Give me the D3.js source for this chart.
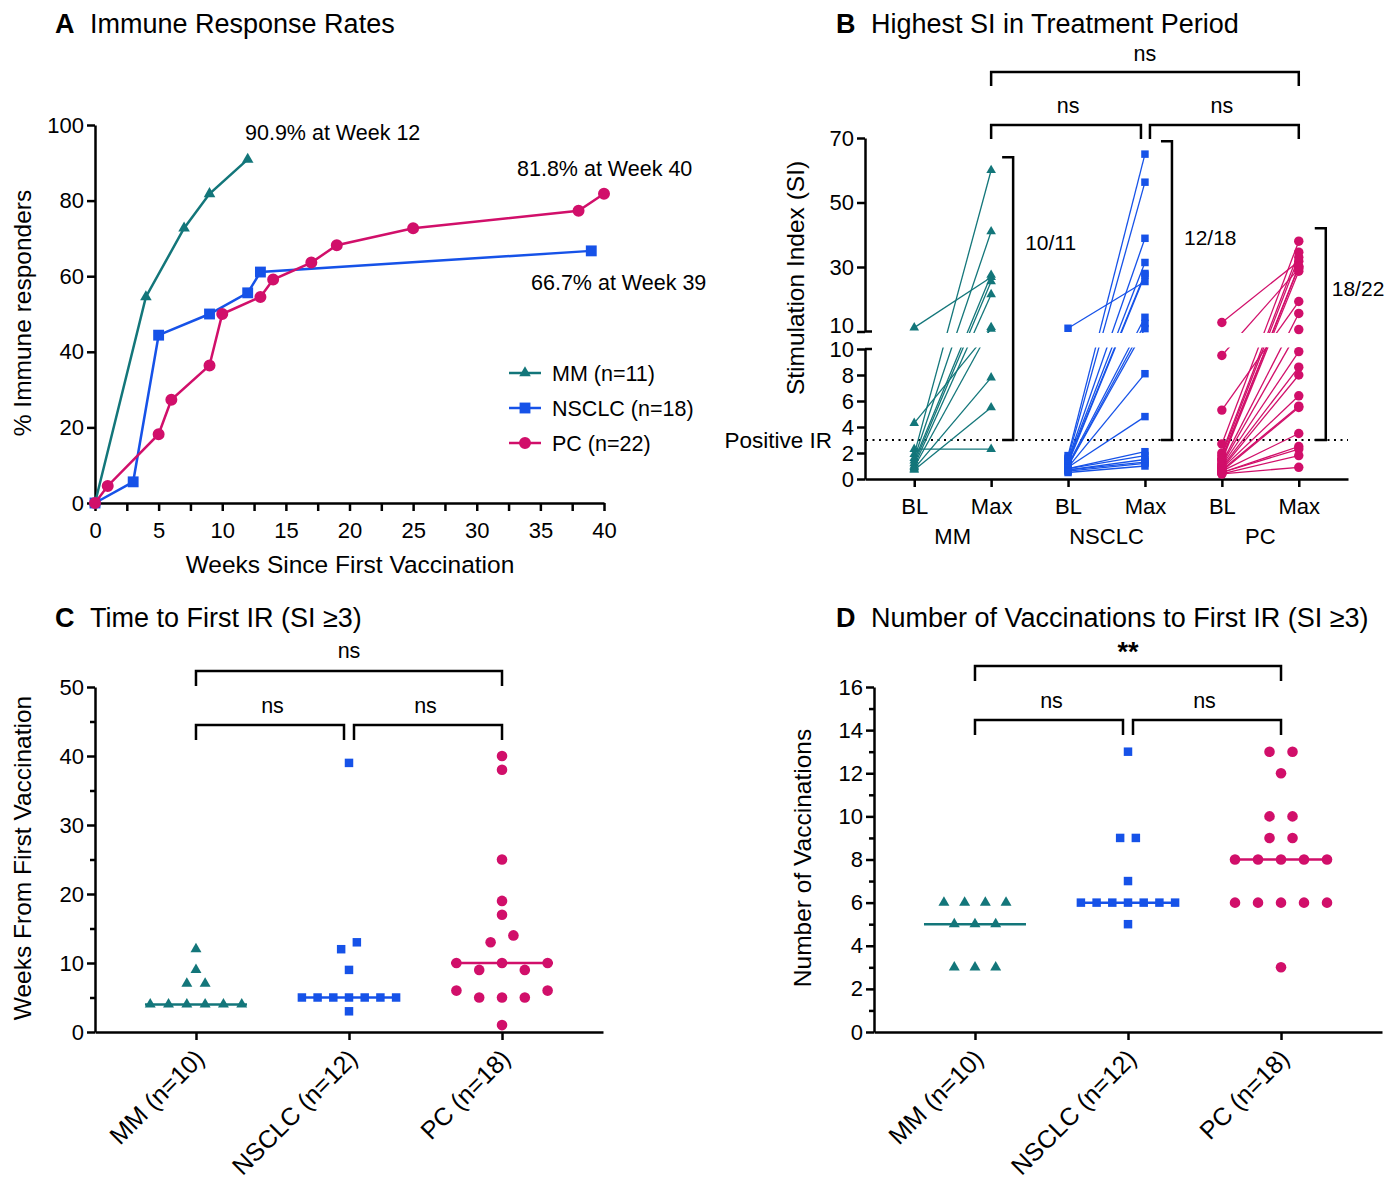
<!DOCTYPE html>
<html>
<head>
<meta charset="utf-8">
<script src="https://cdn.jsdelivr.net/npm/d3@7"></script>
<style>
  body { margin: 0; background: #fff; }
  svg { font-family: "Liberation Sans", Arial, sans-serif; }
  .axis path, .axis line { stroke: #000; stroke-width: 2.5; }
  .axis text { font-size: 22px; fill: #000; font-family: "Liberation Sans", Arial, sans-serif; }
  .letter { font-size: 27px; font-weight: bold; }
  .title { font-size: 27px; }
  .lab { font-size: 24.5px; }
  .note { font-size: 21.5px; }
  .bracket { fill: none; stroke: #000; stroke-width: 2.5; }
</style>
</head>
<body>
<svg id="fig" width="1386" height="1180"></svg>
<script>
// A: cumulative % immune responders by week
var weeksMM = [0, 4, 7, 9, 12];
var respMM = [0, 54.5, 72.7, 81.8, 90.9];
var weeksNSCLC = [0, 3, 5, 9, 12, 13, 39];
var respNSCLC = [0, 5.6, 44.4, 50.0, 55.6, 61.1, 66.7];
var weeksPC = [0, 1, 5, 6, 9, 10, 13, 14, 17, 19, 25, 38, 40];
var respPC = [0, 4.5, 18.2, 27.3, 36.4, 50.0, 54.5, 59.1, 63.6, 68.2, 72.7, 77.3, 81.8];
var groupNames = ['MM', 'NSCLC', 'PC'];
var legendA = ['MM (n=11)', 'NSCLC (n=18)', 'PC (n=22)'];
var calloutsA = ['90.9% at Week 12', '81.8% at Week 40', '66.7% at Week 39'];

// B: SI at baseline and highest SI, paired per patient
var siBlMM = [11.2, 4.3, 2.3, 1.9, 1.6, 1.4, 1.2, 1.0, 0.9, 0.8, 0.7];
var siMaxMM = [26.8, 10.8, 2.3, 60, 41, 27.5, 25.5, 21.5, 11.3, 7.8, 5.5];
var siBlNSCLC = [11.0, 1.8, 1.6, 1.5, 1.4, 1.3, 1.2, 1.1, 1.0, 1.0, 0.9, 0.9, 0.8, 0.8, 0.7, 0.7, 0.6, 0.5];
var siMaxNSCLC = [25.5, 65, 56.3, 38.9, 31.4, 28, 27.5, 14.4, 12.5, 10.9, 8.1, 4.8, 2.1, 1.8, 1.5, 1.3, 1.2, 1.0];
var siBlPC = [12.8, 9.5, 5.3, 2.7, 2.0, 1.8, 1.6, 1.5, 1.4, 1.2, 1.1, 1.0, 0.9, 0.8, 0.8, 0.7, 0.6, 0.6, 0.5, 0.5, 0.4, 0.4];
var siMaxPC = [31.8, 29.5, 19.3, 38, 34.6, 33, 30.2, 30, 28.7, 15.6, 10.6, 9.8, 8.6, 8.0, 6.4, 5.6, 5.5, 3.5, 2.5, 2.3, 1.8, 0.9];
var timepoints = ['BL', 'Max'];
var siTicksHigh = [10, 30, 50, 70];
var siTicksLow = [0, 2, 4, 6, 8, 10];
var siThreshold = 3;
var statsB = ['ns', 'ns', 'ns'];

// C / D: per-patient time and vaccinations to first IR (listed left to right within a row)
var weeksToIrMM = [4, 4, 4, 4, 4, 4, 7, 7, 9, 12];
var weeksToIrNSCLC = [3, 5, 5, 5, 5, 5, 5, 5, 9, 12, 13, 39];
var weeksToIrPC = [1, 6, 5, 5, 5, 6, 10, 9, 10, 9, 10, 13, 14, 17, 19, 25, 38, 40];
var vaccToIrMM = [3, 3, 3, 5, 5, 5, 6, 6, 6, 6];
var vaccToIrNSCLC = [5, 6, 6, 6, 6, 6, 6, 6, 7, 9, 9, 13];
var vaccToIrPC = [3, 6, 6, 6, 6, 6, 8, 8, 8, 8, 8, 9, 9, 10, 10, 12, 13, 13];
var catLabelsCD = ['MM (n=10)', 'NSCLC (n=12)', 'PC (n=18)'];
var statsC = ['ns', 'ns', 'ns'];
var statsD = ['ns', 'ns', '**'];

var colors = ['#13767a', '#1652e8', '#d10f6a'];
var shapes = [d3.symbolTriangle, d3.symbolSquare, d3.symbolCircle];

var svg = d3.select('#fig');

function addTitle(x, y, letter, text) {
  svg.append('text').attr('class', 'letter').attr('x', x).attr('y', y).text(letter);
  svg.append('text').attr('class', 'title').attr('x', x + 35).attr('y', y).text(text);
}

function yLabel(x, y, text) {
  svg.append('text').attr('class', 'lab')
    .attr('transform', 'translate(' + x + ',' + y + ') rotate(-90)')
    .attr('text-anchor', 'middle').attr('dy', '0.35em').text(text);
}

function bracket(x1, x2, y, leg) {
  svg.append('path').attr('class', 'bracket')
    .attr('d', 'M' + x1 + ',' + (y + leg) + 'V' + y + 'H' + x2 + 'V' + (y + leg));
}

function statText(x, y, text) {
  var bold = text.indexOf('*') >= 0;
  svg.append('text').attr('x', x).attr('y', bold ? y + 8 : y)
    .attr('text-anchor', 'middle')
    .style('font-size', bold ? '27px' : '21.5px')
    .style('font-weight', bold ? 'bold' : 'normal')
    .text(text);
}

// ---------------- Panel A ----------------
addTitle(55, 33, 'A', 'Immune Response Rates');
var xA = d3.scaleLinear().domain([0, 40]).range([95, 604]);
var yA = d3.scaleLinear().domain([0, 100]).range([503, 125]);

svg.append('g').attr('class', 'axis').attr('transform', 'translate(0,503)')
  .call(d3.axisBottom(xA).tickValues(d3.range(0, 40.1, 2.5))
    .tickFormat(function (d) { return d % 5 === 0 ? d : ''; })
    .tickSize(8).tickSizeOuter(0).tickPadding(11));
svg.append('g').attr('class', 'axis').attr('transform', 'translate(95,0)')
  .call(d3.axisLeft(yA).tickValues(d3.range(0, 101, 20)).tickSize(8).tickSizeOuter(0).tickPadding(3));

svg.append('text').attr('class', 'lab').attr('x', 350).attr('y', 573)
  .attr('text-anchor', 'middle').text('Weeks Since First Vaccination');
yLabel(22, 313, '% Immune responders');

var seriesA = [
  {x: weeksMM, y: respMM, size: 58},
  {x: weeksNSCLC, y: respNSCLC, size: 118},
  {x: weeksPC, y: respPC, size: 113},
];
seriesA.forEach(function (s, gi) {
  var pts = s.x.map(function (w, i) { return [w, s.y[i]]; });
  svg.append('path').datum(pts)
    .attr('fill', 'none').attr('stroke', colors[gi]).attr('stroke-width', 2.5)
    .attr('d', d3.line().x(function (d) { return xA(d[0]); }).y(function (d) { return yA(d[1]); }));
  svg.append('g').selectAll('path').data(pts).enter().append('path')
    .attr('transform', function (d) { return 'translate(' + xA(d[0]) + ',' + yA(d[1]) + ')'; })
    .attr('d', d3.symbol().type(shapes[gi]).size(s.size))
    .attr('fill', colors[gi]);
});

svg.append('text').attr('class', 'note').attr('x', 245).attr('y', 140).text(calloutsA[0]);
svg.append('text').attr('class', 'note').attr('x', 517).attr('y', 176).text(calloutsA[1]);
svg.append('text').attr('class', 'note').attr('x', 531).attr('y', 290).text(calloutsA[2]);

legendA.forEach(function (name, gi) {
  var ly = 373 + gi * 35;
  svg.append('line').attr('x1', 509).attr('x2', 541).attr('y1', ly).attr('y2', ly)
    .attr('stroke', colors[gi]).attr('stroke-width', 2.5);
  svg.append('path').attr('transform', 'translate(525,' + ly + ')')
    .attr('d', d3.symbol().type(shapes[gi]).size(seriesA[gi].size)).attr('fill', colors[gi]);
  svg.append('text').attr('class', 'note').attr('x', 552).attr('y', ly + 8).text(name);
});

// ---------------- Panel B ----------------
addTitle(836, 33, 'B', 'Highest SI in Treatment Period');
var keysB = [];
groupNames.forEach(function (g) { timepoints.forEach(function (t) { keysB.push(g + '|' + t); }); });
var xB = d3.scalePoint().domain(keysB).range([865, 1348]).padding(0.64);
var yLow = d3.scaleLinear().domain([0, 10]).range([479, 349]);
var yHigh = d3.scaleLinear().domain([10, 70]).range([331.5, 138]);
function yB(v) { return v <= 10 ? yLow(v) : yHigh(v); }

svg.append('g').attr('class', 'axis').attr('transform', 'translate(0,479)')
  .call(d3.axisBottom(xB).tickFormat(function (k) { return k.split('|')[1]; })
    .tickSize(8).tickSizeOuter(0).tickPadding(11));
var yHighAxis = svg.append('g').attr('class', 'axis').attr('transform', 'translate(865,0)')
  .call(d3.axisLeft(yHigh).tickValues(siTicksHigh).tickSize(8).tickSizeOuter(0).tickPadding(3));
svg.append('g').attr('class', 'axis').attr('transform', 'translate(865,0)')
  .call(d3.axisLeft(yLow).tickValues(siTicksLow).tickSize(8).tickSizeOuter(0).tickPadding(3));
// lift the upper "10" label a little so it clears the lower one at the break
yHighAxis.selectAll('.tick').filter(function (d) { return d === 10; }).select('text').attr('dy', '0.05em');
// break caps
[yHigh(10), yLow(10)].forEach(function (y) {
  svg.append('line').attr('x1', 865).attr('x2', 872).attr('y1', y).attr('y2', y)
    .attr('stroke', '#000').attr('stroke-width', 2.5);
});

groupNames.forEach(function (g) {
  var cx = (xB(g + '|BL') + xB(g + '|Max')) / 2;
  svg.append('text').attr('x', cx).attr('y', 544).attr('text-anchor', 'middle')
    .style('font-size', '22px').text(g);
});
yLabel(795, 278, 'Stimulation Index (SI)');

svg.append('line').attr('x1', 866).attr('x2', 1348)
  .attr('y1', yLow(siThreshold)).attr('y2', yLow(siThreshold))
  .attr('stroke', '#000').attr('stroke-width', 2).attr('stroke-dasharray', '2,4.5');
svg.append('text').attr('x', 832).attr('y', yLow(siThreshold) + 8).attr('text-anchor', 'end')
  .style('font-size', '22.5px').text('Positive IR');

var clip = svg.append('defs').append('clipPath').attr('id', 'brk');
clip.append('rect').attr('x', 860).attr('y', 100).attr('width', 500).attr('height', yHigh(10) + 1.5 - 100);
clip.append('rect').attr('x', 860).attr('y', yLow(10) - 1.5).attr('width', 500).attr('height', 140);

var pairsB = [[siBlMM, siMaxMM], [siBlNSCLC, siMaxNSCLC], [siBlPC, siMaxPC]];
var sizeB = [40, 56, 70];
var countPosB = [0.3, 0.32, 0.28];
pairsB.forEach(function (p, gi) {
  var g = groupNames[gi];
  var xbl = xB(g + '|BL'), xmx = xB(g + '|Max');
  var rows = p[0].map(function (v, i) { return {bl: v, mx: p[1][i]}; });
  svg.append('g').attr('clip-path', 'url(#brk)').selectAll('line').data(rows).enter().append('line')
    .attr('x1', xbl).attr('x2', xmx)
    .attr('y1', function (d) { return yB(d.bl); }).attr('y2', function (d) { return yB(d.mx); })
    .attr('stroke', colors[gi]).attr('stroke-width', 1.3);
  var sym = d3.symbol().type(shapes[gi]).size(sizeB[gi]);
  var gp = svg.append('g');
  rows.forEach(function (d) {
    gp.append('path').attr('transform', 'translate(' + xbl + ',' + yB(d.bl) + ')').attr('d', sym).attr('fill', colors[gi]);
    gp.append('path').attr('transform', 'translate(' + xmx + ',' + yB(d.mx) + ')').attr('d', sym).attr('fill', colors[gi]);
  });
  // responders bracket
  var top = yB(d3.max(p[1])) - 13, bot = yLow(siThreshold);
  var bx = xmx + (gi === 0 ? 22 : 27);
  svg.append('path').attr('class', 'bracket')
    .attr('d', 'M' + (bx - 11) + ',' + top + 'H' + bx + 'V' + bot + 'H' + (bx - 11));
  var nResp = p[1].filter(function (v) { return v >= siThreshold; }).length;
  svg.append('text').attr('x', bx + (gi === 2 ? 6 : 12))
    .style('font-size', '21px')
    .attr('y', top + countPosB[gi] * (bot - top) + 8).text(nResp + '/' + p[1].length);
});

var xMaxB = groupNames.map(function (g) { return xB(g + '|Max'); });
bracket(xMaxB[0], xMaxB[1] - 4, 125, 14);
bracket(xMaxB[1] + 5, xMaxB[2], 125, 14);
bracket(xMaxB[0], xMaxB[2], 72, 14);
statText((xMaxB[0] + xMaxB[1]) / 2, 113, statsB[0]);
statText((xMaxB[1] + xMaxB[2]) / 2, 113, statsB[1]);
statText((xMaxB[0] + xMaxB[2]) / 2, 61, statsB[2]);

// ---------------- Panels C and D ----------------
function swarmOffsets(values, y, step) {
  var order = d3.range(values.length).sort(function (a, b) { return values[a] - values[b] || a - b; });
  var bins = [], cur = null, lastY = null;
  order.forEach(function (i) {
    var py = y(values[i]);
    if (cur && Math.abs(py - lastY) < 10) { cur.push(i); } else { cur = [i]; bins.push(cur); }
    lastY = py;
  });
  var off = [];
  bins.forEach(function (b) {
    b.sort(d3.ascending);
    b.forEach(function (i, k) { off[i] = (k - (b.length - 1) / 2) * step; });
  });
  return off;
}

function dotPanel(opt) {
  var x = d3.scalePoint().domain(groupNames).range([opt.left, opt.left + 508]).padding(0.66);
  var y = d3.scaleLinear().domain([0, opt.max]).range([1032, 687]);

  svg.append('g').attr('class', 'axis').attr('transform', 'translate(0,1032)')
    .call(d3.axisBottom(x).tickFormat('').tickSize(8).tickSizeOuter(0));
  var ya = svg.append('g').attr('class', 'axis').attr('transform', 'translate(' + opt.left + ',0)')
    .call(d3.axisLeft(y).tickValues(d3.range(0, opt.max + 0.1, opt.minor))
      .tickFormat(function (d) { return d % opt.major === 0 ? d : ''; })
      .tickSize(8).tickSizeOuter(0).tickPadding(3));
  ya.selectAll('.tick').filter(function (d) { return d % opt.major !== 0; })
    .select('line').attr('x2', -5);

  groupNames.forEach(function (g, gi) {
    svg.append('text')
      .attr('transform', 'translate(' + (x(g) + 10) + ',1060) rotate(-45)')
      .attr('text-anchor', 'end').style('font-size', '25px').text(catLabelsCD[gi]);
  });
  yLabel(opt.ylabX, 858, opt.ylabel);

  opt.data.forEach(function (vals, gi) {
    var cx = x(groupNames[gi]);
    var med = d3.median(vals);
    svg.append('line').attr('x1', cx - 51).attr('x2', cx + 51)
      .attr('y1', y(med)).attr('y2', y(med))
      .attr('stroke', colors[gi]).attr('stroke-width', 2.5);
    var off = swarmOffsets(vals, y, opt.steps[gi]);
    svg.append('g').selectAll('path').data(vals).enter().append('path')
      .attr('transform', function (d, i) { return 'translate(' + (cx + off[i]) + ',' + y(d) + ')'; })
      .attr('d', d3.symbol().type(shapes[gi]).size(opt.sizes[gi]))
      .attr('fill', colors[gi]);
  });

  var xs = groupNames.map(function (g) { return x(g); });
  bracket(xs[0], xs[1] - 5, opt.row2, 15);
  bracket(xs[1] + 5, xs[2], opt.row2, 15);
  bracket(xs[0], xs[2], opt.row1, 15);
  statText((xs[0] + xs[1]) / 2, opt.row2 - 12, opt.stats[0]);
  statText((xs[1] + xs[2]) / 2, opt.row2 - 12, opt.stats[1]);
  statText((xs[0] + xs[2]) / 2, opt.row1 - 13, opt.stats[2]);
}

addTitle(55, 627, 'C', 'Time to First IR (SI \u22653)');
dotPanel({
  left: 95, max: 50, major: 10, minor: 5,
  ylabel: 'Weeks From First Vaccination', ylabX: 22,
  data: [weeksToIrMM, weeksToIrNSCLC, weeksToIrPC],
  steps: [18.3, 15.7, 22.8], sizes: [52, 72, 88],
  row1: 671, row2: 725, stats: statsC,
});

addTitle(836, 627, 'D', 'Number of Vaccinations to First IR (SI \u22653)');
dotPanel({
  left: 874, max: 16, major: 2, minor: 1,
  ylabel: 'Number of Vaccinations', ylabX: 802,
  data: [vaccToIrMM, vaccToIrNSCLC, vaccToIrPC],
  steps: [20.7, 15.7, 23], sizes: [52, 72, 88],
  row1: 666, row2: 720, stats: statsD,
});
</script>
</body>
</html>
